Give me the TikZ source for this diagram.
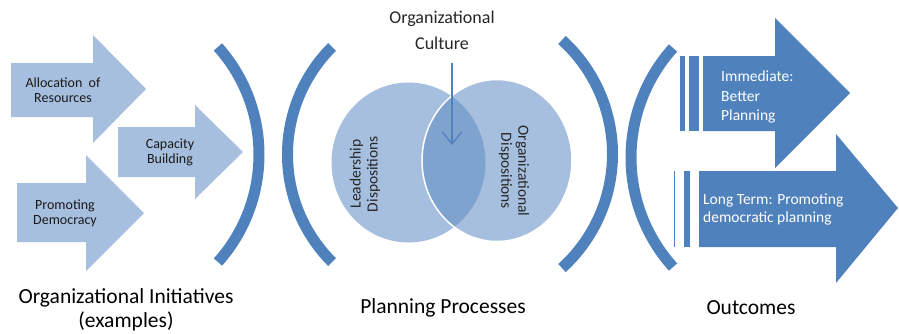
\documentclass[tikz,border=0pt]{standalone}
\usepackage{fontspec}
\setmainfont{Carlito}
\usepackage{tikz}
\usetikzlibrary{arrows.meta}
\tikzset{>=stealth}
\usepackage{xcolor}
\definecolor{lightblue}{HTML}{A7BFDE}
\definecolor{darkblue}{HTML}{4F81BD}
\definecolor{lensblue}{HTML}{7FA3CF}

\begin{document}
\begin{tikzpicture}[x=1pt, y=-1pt,
    bracket/.style={draw=darkblue, line width=11pt},
    armtext/.style={font=\fontsize{14}{15}\selectfont, align=center, text=black!90},
    vertext/.style={font=\fontsize{15.5}{17}\selectfont, align=center, text=black!85},
    outtext/.style={font=\fontsize{15.5}{19.5}\selectfont, align=left, text=white, anchor=west, inner sep=0pt},
    captext/.style={font=\fontsize{21.5}{24}\selectfont, align=center}]
	\useasboundingbox (0,0) rectangle (899,333);
	% initiatives
	\fill [lightblue] (11,63) -- (93,63) -- (93,35) -- (146,89) -- (93,143) -- (93,117) -- (11,117) -- cycle;
	\fill [lightblue] (118,127) -- (195,127) -- (195,105) -- (243,152) -- (195,199) -- (195,177) -- (118,177) -- cycle;
	\fill [lightblue] (17,183) -- (86,183) -- (86,155) -- (144,213) -- (86,271) -- (86,242) -- (17,242) -- cycle;
	\node [armtext] (alloc) at (63,90) {Allocation~ of\\Resources};
	\node [armtext] (capac) at (170,152) {Capacity\\Building};
	\node [armtext] (democ) at (65,213) {Promoting\\Democracy};
	% brackets
	\draw [bracket] (97.6,154.5) ++(-41.8:161.4) arc [start angle=-41.8, end angle=41.8, radius=161.4];
	\draw [bracket] (439.6,154.5) ++(135:152.1) arc [start angle=135, end angle=225, radius=152.1];
	\draw [bracket] (458.6,154) ++(-47.8:153.9) arc [start angle=-47.8, end angle=47.8, radius=153.9];
	\draw [bracket] (794.7,157.5) ++(138:163.7) arc [start angle=138, end angle=222, radius=163.7];
	% planning processes
	\fill [lightblue] (408.5,162.5) ellipse [x radius=77, y radius=80];
	\fill [lightblue] (497,160.5) ellipse [x radius=75, y radius=81];
	\begin{scope}
		\clip (408.5,162.5) ellipse [x radius=77, y radius=80];
		\fill [lensblue] (497,160.5) ellipse [x radius=75, y radius=81];
	\end{scope}
	\draw [white, line width=1.5pt] (497,160.5) ellipse [x radius=75, y radius=81];
	\node [vertext, rotate=90] (leader) at (365,174) {Leadership\\Dispositions};
	\node [vertext, rotate=-90] (orgdisp) at (514,171) {Organizational\\Dispositions};
	\node [font=\fontsize{18}{26}\selectfont, align=center, text=black!85] (culture) at (442,30) {Organizational\\Culture};
	\coordinate (culend) at (452,145);
	\draw [darkblue, line width=1.2pt, -{Straight Barb[length=12pt, width=19pt]}, shorten <=10pt] (culture.south -| culend) -- (culend);
	% outcomes
	\fill [darkblue] (703,56) -- (775,56) -- (775,18) -- (850,93) -- (775,168) -- (775,131) -- (703,131) -- cycle;
	\fill [darkblue] (680,56) rectangle (685,131);
	\fill [darkblue] (689,56) rectangle (699,131);
	\fill [darkblue] (699,171) -- (836,171) -- (836,134) -- (898,208) -- (836,283) -- (836,247) -- (699,247) -- cycle;
	\fill [darkblue] (684,171) rectangle (690,247);
	\draw [darkblue, line width=1pt] (674.5,171) -- (674.5,247);
	\node [outtext] (immed) at (721,97) {Immediate:\\Better\\Planning};
	\node [outtext, font=\fontsize{15.5}{18}\selectfont] (longterm) at (703,209) {Long Term: Promoting\\democratic planning};
	% captions
	\node [captext] (initiatives) at (126,310) {Organizational Initiatives\\(examples)};
	\node [captext] (processes) at (443,308) {Planning Processes};
	\node [captext] (outcomes) at (751,308) {Outcomes};
\end{tikzpicture}
\end{document}
